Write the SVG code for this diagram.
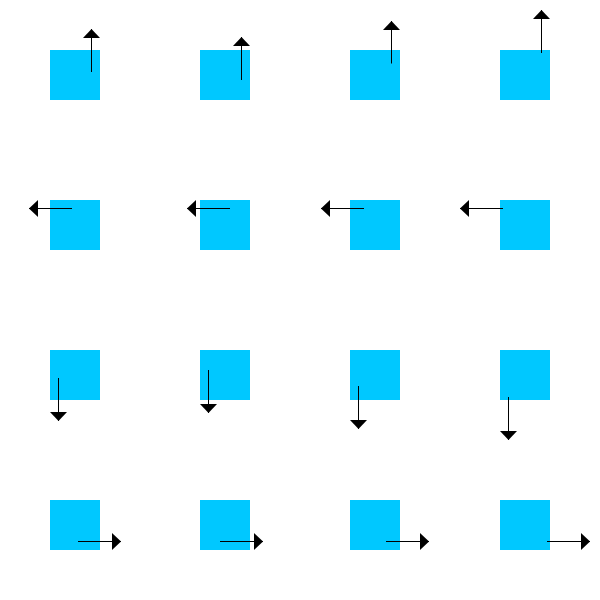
<svg xmlns="http://www.w3.org/2000/svg" width="600" height="600" viewBox="0 0 600 600">
<style>
.box{fill:#00C8FF;stroke:none}
.arr{stroke:#000;stroke-width:1;fill:none;marker-end:url(#ah)}
</style>
<defs>
<marker id="ah" markerUnits="userSpaceOnUse" viewBox="0 0 9 17" markerWidth="9" markerHeight="17" refX="9" refY="8.5" orient="auto">
<path d="M0,0 L9,8.5 L0,17 Z" fill="#000"/>
</marker>
</defs>
<rect width="600" height="600" fill="#fff"/>
<g id="n11"><rect class="box" x="50" y="50" width="50" height="50"/></g>
<g id="n12"><rect class="box" x="200" y="50" width="50" height="50"/></g>
<g id="n13"><rect class="box" x="350" y="50" width="50" height="50"/></g>
<g id="n14"><rect class="box" x="500" y="50" width="50" height="50"/></g>
<g id="n21"><rect class="box" x="50" y="200" width="50" height="50"/></g>
<g id="n22"><rect class="box" x="200" y="200" width="50" height="50"/></g>
<g id="n23"><rect class="box" x="350" y="200" width="50" height="50"/></g>
<g id="n24"><rect class="box" x="500" y="200" width="50" height="50"/></g>
<g id="n31"><rect class="box" x="50" y="350" width="50" height="50"/></g>
<g id="n32"><rect class="box" x="200" y="350" width="50" height="50"/></g>
<g id="n33"><rect class="box" x="350" y="350" width="50" height="50"/></g>
<g id="n34"><rect class="box" x="500" y="350" width="50" height="50"/></g>
<g id="n41"><rect class="box" x="50" y="500" width="50" height="50"/></g>
<g id="n42"><rect class="box" x="200" y="500" width="50" height="50"/></g>
<g id="n43"><rect class="box" x="350" y="500" width="50" height="50"/></g>
<g id="n44"><rect class="box" x="500" y="500" width="50" height="50"/></g>
<g id="connectors">
<line class="arr" x1="91.5" y1="72" x2="91.5" y2="29"/>
<line class="arr" x1="241.5" y1="80" x2="241.5" y2="37"/>
<line class="arr" x1="391.5" y1="63.5" x2="391.5" y2="21"/>
<line class="arr" x1="541.5" y1="53" x2="541.5" y2="10"/>
<line class="arr" x1="72" y1="208.5" x2="29" y2="208.5"/>
<line class="arr" x1="230" y1="208.5" x2="187" y2="208.5"/>
<line class="arr" x1="364" y1="208.5" x2="321" y2="208.5"/>
<line class="arr" x1="503" y1="208.5" x2="460" y2="208.5"/>
<line class="arr" x1="58.5" y1="378" x2="58.5" y2="421"/>
<line class="arr" x1="208.5" y1="370" x2="208.5" y2="413"/>
<line class="arr" x1="358.5" y1="386" x2="358.5" y2="429"/>
<line class="arr" x1="508.5" y1="397" x2="508.5" y2="440"/>
<line class="arr" x1="78" y1="541.5" x2="121" y2="541.5"/>
<line class="arr" x1="220" y1="541.5" x2="263" y2="541.5"/>
<line class="arr" x1="386" y1="541.5" x2="429" y2="541.5"/>
<line class="arr" x1="547" y1="541.5" x2="590" y2="541.5"/>
</g>
</svg>
